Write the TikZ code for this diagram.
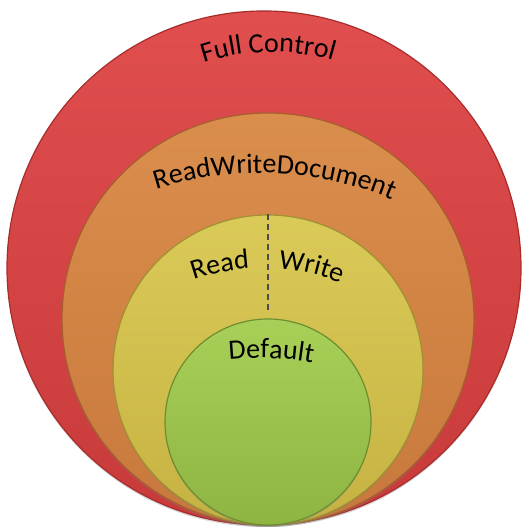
\documentclass[tikz,border=0pt]{standalone}
\usepackage{fontspec}
\setmainfont{Carlito}
\usetikzlibrary{shadows}
\usetikzlibrary{decorations.text}
\usetikzlibrary{calc}
\definecolor{fulltop}{RGB}{224,78,78}
\definecolor{fullbot}{RGB}{200,58,58}
\definecolor{fullrim}{RGB}{168,44,44}
\definecolor{doctop}{RGB}{218,142,76}
\definecolor{docbot}{RGB}{200,120,60}
\definecolor{docrim}{RGB}{165,95,45}
\definecolor{rwtop}{RGB}{218,202,88}
\definecolor{rwbot}{RGB}{198,178,66}
\definecolor{rwrim}{RGB}{160,145,50}
\definecolor{deftop}{RGB}{168,208,88}
\definecolor{defbot}{RGB}{142,180,66}
\definecolor{defrim}{RGB}{108,142,48}
\tikzstyle{ring}=[circle,draw,line width=1.2pt,inner sep=0pt,drop shadow={shadow xshift=0pt,shadow yshift=-2pt,opacity=0.3}]
\tikzstyle{arctext}=[decorate,decoration={text along path,text align=center}]
\tikzstyle{divider}=[draw,dashed,line width=1.3pt,black!70,dash pattern=on 6pt off 4pt]
\newcommand{\lbl}{\fontsize{28}{30}\selectfont}

\begin{document}
\begin{tikzpicture}[x=1pt,y=1pt]
    \useasboundingbox (0,0) rectangle (523,529);

    % the four rings, all touching at the bottom
    \node[ring,draw=fullrim,top color=fulltop,bottom color=fullbot,minimum size=514] (full) at (264,261) {};
    \node[ring,draw=docrim,top color=doctop,bottom color=docbot,minimum size=412] (rwdoc) at (268,210) {};
    \node[ring,draw=rwrim,top color=rwtop,bottom color=rwbot,minimum size=310] (rw) at (268,159) {};
    \node[ring,draw=defrim,top color=deftop,bottom color=defbot,minimum size=206] (deflt) at (268,107) {};

    \path[divider,shorten >=5pt] (rw.north) -- (deflt.north);

    % arc centres for the labels
    \coordinate (fcc) at (272,257);
    \coordinate (rwdc) at (260,16);
    \coordinate (rwc) at (263,51);
    \coordinate (dfc) at (260,-129);

    \path[arctext,decoration={text={|\lbl|Full Control}}]
        (fcc) ++(121:220) arc[start angle=121,end angle=61,radius=220];
    \path[arctext,decoration={text={|\lbl|ReadWriteDocument}}]
        (rwdc) ++(112.5:340) arc[start angle=112.5,end angle=62.5,radius=340];
    \path[arctext,decoration={text={|\lbl|Read}}]
        (rwc) ++(111.5:210) arc[start angle=111.5,end angle=91.5,radius=210];
    \path[arctext,decoration={text={|\lbl|Write}}]
        (rwc) ++(87:210) arc[start angle=87,end angle=67,radius=210];
    \path[arctext,decoration={text={|\lbl|Default}}]
        (dfc) ++(100:300) arc[start angle=100,end angle=75.8,radius=300];

\end{tikzpicture}
\end{document}
